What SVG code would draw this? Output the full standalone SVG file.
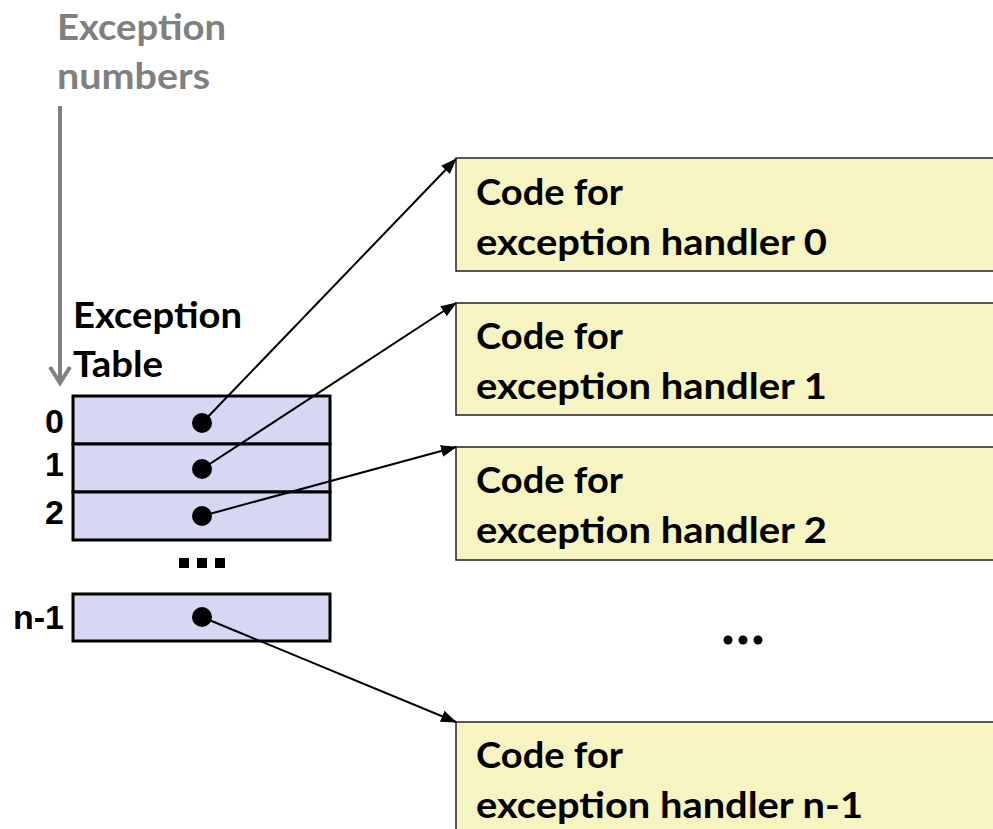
<svg xmlns="http://www.w3.org/2000/svg" width="993" height="829" viewBox="0 0 993 829">
<defs>
<style>
.t{font-family:Lato,"Open Sans","Liberation Sans",sans-serif;font-weight:bold;font-size:36px;fill:#000}
.g{fill:#808080}
.n{font-family:"Liberation Sans",Arial,sans-serif;font-weight:bold;font-size:34px;fill:#000;text-anchor:end}
.row{fill:#d6d7f3;stroke:#000;stroke-width:3}
.box{fill:#f6f4c0;stroke:#222;stroke-width:1.5}
.c{stroke:#000;stroke-width:2;fill:none;marker-end:url(#ah)}
</style>
<marker id="ah" viewBox="0 0 16 12" refX="15" refY="6" markerWidth="16" markerHeight="12" orient="auto" markerUnits="userSpaceOnUse">
<path d="M0,0 L16,6 L0,12 z" fill="#000"/>
</marker>
</defs>
<rect width="993" height="829" fill="#fff"/>
<g id="exception-numbers">
<text class="t g" x="57" y="40" textLength="169" lengthAdjust="spacingAndGlyphs">Exception</text>
<text class="t g" x="57" y="89" textLength="153" lengthAdjust="spacingAndGlyphs">numbers</text>
<line x1="60" y1="106" x2="60" y2="382" stroke="#808080" stroke-width="4"/>
<polyline points="50,367 60,383 70,367" fill="none" stroke="#808080" stroke-width="4" stroke-linejoin="miter"/>
</g>
<g id="exception-table">
<text class="t" x="73" y="328" textLength="169" lengthAdjust="spacingAndGlyphs">Exception</text>
<text class="t" x="73" y="377" textLength="90" lengthAdjust="spacingAndGlyphs">Table</text>
<rect class="row" x="73" y="396" width="257" height="48"/>
<rect class="row" x="73" y="444" width="257" height="48"/>
<rect class="row" x="73" y="492" width="257" height="48"/>
<rect class="row" x="73" y="594" width="257" height="47"/>
<text class="n" x="64" y="433">0</text>
<text class="n" x="64" y="476">1</text>
<text class="n" x="64" y="524">2</text>
<text class="n" x="64" y="629">n-1</text>
<rect x="179" y="558" width="10" height="10"/>
<rect x="197" y="558" width="10" height="10"/>
<rect x="215" y="558" width="10" height="10"/>
<circle cx="202" cy="423" r="10"/>
<circle cx="202" cy="469" r="10"/>
<circle cx="202" cy="516" r="10"/>
<circle cx="202" cy="617" r="10"/>
</g>
<g id="handler-0">
<rect class="box" x="456" y="158" width="560" height="113"/>
<text class="t" x="476" y="205" textLength="147" lengthAdjust="spacingAndGlyphs">Code for</text>
<text class="t" x="476" y="255" textLength="351" lengthAdjust="spacingAndGlyphs">exception handler 0</text>
</g>
<g id="handler-1">
<rect class="box" x="456" y="303" width="560" height="112"/>
<text class="t" x="476" y="349" textLength="147" lengthAdjust="spacingAndGlyphs">Code for</text>
<text class="t" x="476" y="399" textLength="351" lengthAdjust="spacingAndGlyphs">exception handler 1</text>
</g>
<g id="handler-2">
<rect class="box" x="456" y="447" width="560" height="113"/>
<text class="t" x="476" y="493" textLength="147" lengthAdjust="spacingAndGlyphs">Code for</text>
<text class="t" x="476" y="543" textLength="351" lengthAdjust="spacingAndGlyphs">exception handler 2</text>
</g>
<g id="ellipsis">
<circle cx="728" cy="640" r="4.5"/>
<circle cx="743" cy="640" r="4.5"/>
<circle cx="758" cy="640" r="4.5"/>
</g>
<g id="handler-n-1">
<rect class="box" x="456" y="722" width="560" height="130"/>
<text class="t" x="476" y="768" textLength="147" lengthAdjust="spacingAndGlyphs">Code for</text>
<text class="t" x="476" y="818" textLength="387" lengthAdjust="spacingAndGlyphs">exception handler n-1</text>
</g>
<g id="connectors">
<line class="c" x1="202" y1="423" x2="456" y2="159"/>
<line class="c" x1="202" y1="469" x2="456" y2="303"/>
<line class="c" x1="202" y1="516" x2="456" y2="447"/>
<line class="c" x1="202" y1="617" x2="456" y2="722"/>
</g>
</svg>
